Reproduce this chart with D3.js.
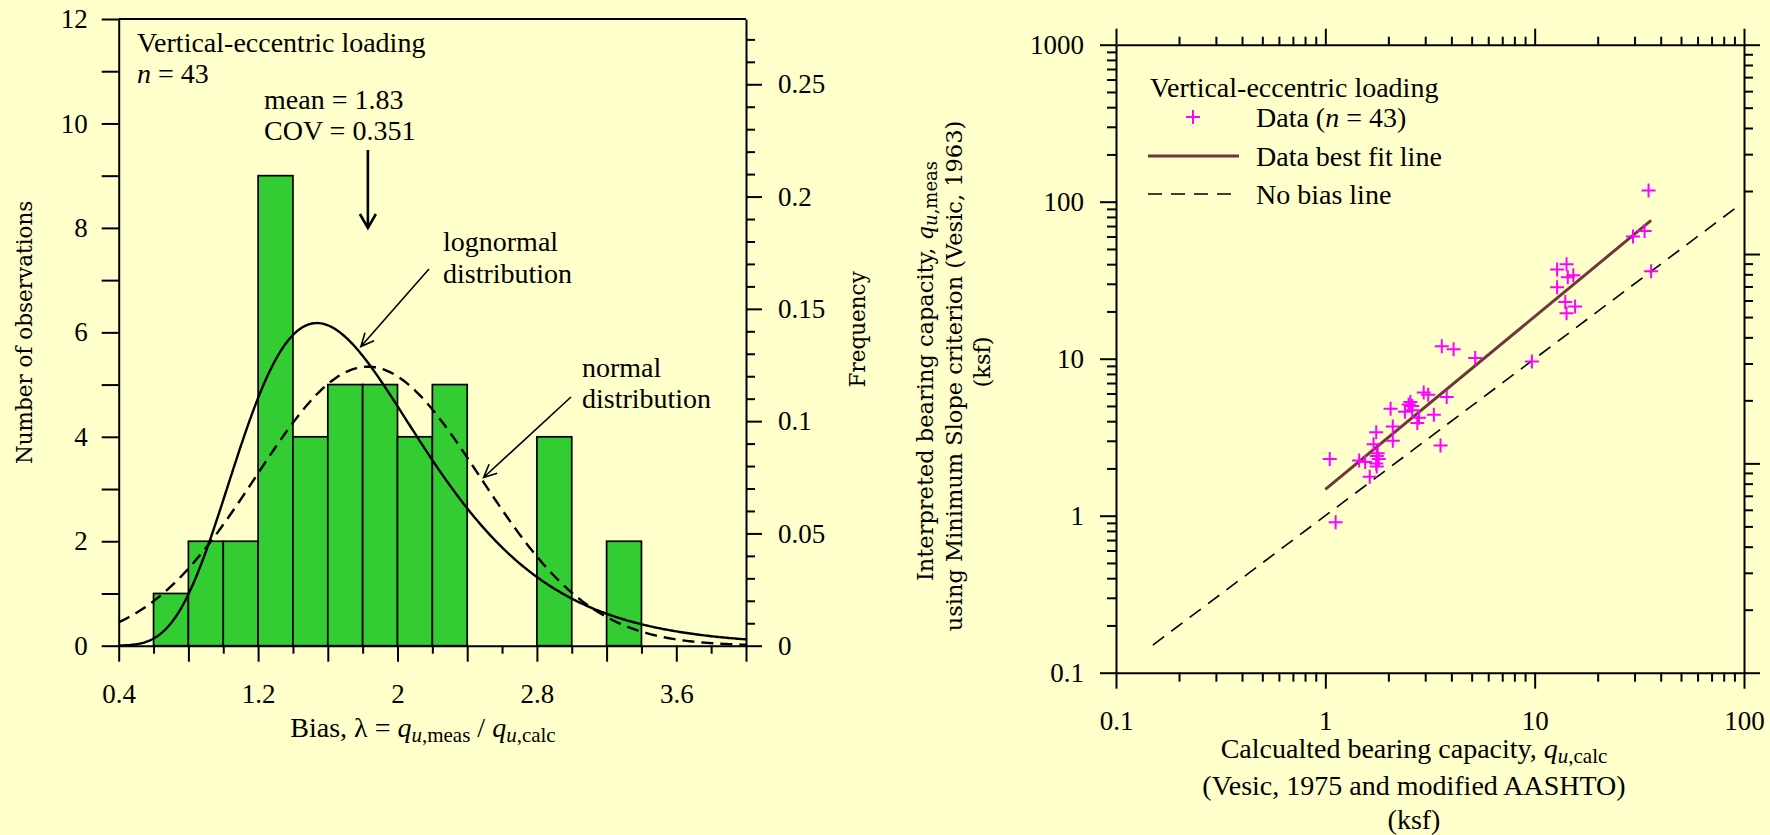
<!DOCTYPE html>
<html>
<head>
<meta charset="utf-8">
<script src="https://cdn.jsdelivr.net/npm/d3@7"></script>
<style>
  body { margin: 0; background: #FFFFCC; }
  svg { display: block; }
</style>
</head>
<body>
<svg id="chart" width="1770" height="835"></svg>
<script>
// ---------- Histogram of bias (vertical-eccentric loading) ----------
const binStarts = [0.6, 0.8, 1.0, 1.2, 1.4, 1.6, 1.8, 2.0, 2.2, 2.8, 3.2];
const binCounts = [1, 2, 2, 9, 4, 5, 5, 4, 5, 4, 2];
const binWidth = 0.2;
const sampleSize = 43;
const biasMean = 1.83;
const biasCOV = 0.351;
const biasTickLabels = ["0.4", "1.2", "2", "2.8", "3.6"];
const countTickLabels = ["0", "2", "4", "6", "8", "10", "12"];
const freqTickLabels = ["0", "0.05", "0.1", "0.15", "0.2", "0.25"];

// ---------- Measured vs calculated bearing capacity (ksf) ----------
const qCalc = [35, 29.5, 33.5, 36, 12.8, 14.2, 14.4, 15.3, 12.8, 14.0, 15.6, 14.2,
               3.6, 4.1, 5.2, 9.7,
               2.95, 3.1, 3.8, 2.05, 2.5, 2.6, 2.4, 3.3, 2.1, 2.75, 2.8, 1.75, 2.1, 1.7, 3.55,
               1.05, 1.45, 1.55, 1.76, 1.8, 1.75, 1.76, 1.63, 1.12, 2.55, 1.78, 2.6];
const qMeas = [118, 60, 65, 36, 37, 40, 33, 34, 28.5, 23, 21.5, 19.5,
               12, 11.5, 10.1, 9.6,
               6.1, 5.9, 5.7, 4.8, 5.1, 5.0, 4.6, 4.4, 3.7, 3.9, 4.2, 3.4, 3.0, 2.85, 2.8,
               2.3, 2.25, 2.2, 2.4, 2.3, 2.15, 2.06, 1.77, 0.91, 5.3, 2.5, 4.7];
const fitLineCalc = [1.0, 36];
const fitLineMeas = [1.47, 76];
const noBiasRange = [0.15, 90];
const calcTickLabels = ["0.1", "1", "10", "100"];
const measTickLabels = ["0.1", "1", "10", "100", "1000"];

const TIMES = "'Liberation Serif', 'Times New Roman', serif";
const WIDE = "'DejaVu Serif', serif";
const TXT = 28, TICK = 27, SUB = 21;
const svg = d3.select("#chart");

function styleAxis(g) {
  g.attr("font-family", TIMES).attr("font-size", TICK);
  g.selectAll("path.domain").attr("stroke", "#000").attr("stroke-width", 2);
  g.selectAll(".tick line").attr("stroke", "#000").attr("stroke-width", 2);
  g.selectAll(".tick text").attr("fill", "#000");
}
function noDomain(g) { g.select(".domain").remove(); }

function arrow(parent, x1, y1, x2, y2, head, halfW, width) {
  const a = Math.atan2(y2 - y1, x2 - x1);
  const ux = Math.cos(a), uy = Math.sin(a);
  const bx = x2 - ux * head, by = y2 - uy * head;
  const px = -uy * halfW, py = ux * halfW;
  parent.append("path")
    .attr("d", `M${x1},${y1}L${x2},${y2}M${bx + px},${by + py}L${x2},${y2}L${bx - px},${by - py}`)
    .attr("fill", "none").attr("stroke", "#000").attr("stroke-width", width)
    .attr("stroke-linejoin", "miter");
}

// subscripted q_{u,xxx}
function qSub(t, sub, subSize, drop) {
  t.append("tspan").attr("font-style", "italic").text("q");
  t.append("tspan").attr("font-style", "italic").attr("font-size", subSize).attr("dy", drop).text("u");
  t.append("tspan").attr("font-size", subSize).text("," + sub);
}

// ================= Left panel: histogram =================
const hx = d3.scaleLinear().domain([0.4, 4.0]).range([118.7, 746]);
const hy = d3.scaleLinear().domain([0, 12]).range([645.7, 19]);
const hf = d3.scaleLinear().domain([0, 12 / sampleSize]).range([645.7, 19]);

const left = svg.append("g");

left.append("g").selectAll("rect")
  .data(binStarts.map((s, i) => ({ s, c: binCounts[i] })))
  .join("rect")
  .attr("x", d => hx(d.s))
  .attr("width", d => hx(d.s + binWidth) - hx(d.s))
  .attr("y", d => hy(d.c))
  .attr("height", d => hy(0) - hy(d.c))
  .attr("fill", "#33CC33")
  .attr("stroke", "#000")
  .attr("stroke-width", 1.7);

// fitted distributions, scaled to counts per bin
const sdN = biasMean * biasCOV;
const sLn = Math.sqrt(Math.log(1 + biasCOV * biasCOV));
const mLn = Math.log(biasMean) - sLn * sLn / 2;
const scaleK = sampleSize * binWidth;
const normalPdf = x => Math.exp(-0.5 * ((x - biasMean) / sdN) ** 2) / (sdN * Math.sqrt(2 * Math.PI));
const lognormPdf = x => Math.exp(-0.5 * ((Math.log(x) - mLn) / sLn) ** 2) / (x * sLn * Math.sqrt(2 * Math.PI));
const xs = d3.range(0, 361).map(i => 0.4 + i * 0.01);

const curve = d3.line().x(d => hx(d[0])).y(d => hy(d[1]));
left.append("path")
  .attr("d", curve(xs.map(x => [x, scaleK * lognormPdf(x)])))
  .attr("fill", "none").attr("stroke", "#000").attr("stroke-width", 2.4);
left.append("path")
  .attr("d", curve(xs.map(x => [x, scaleK * normalPdf(x)])))
  .attr("fill", "none").attr("stroke", "#000").attr("stroke-width", 2.4)
  .attr("stroke-dasharray", "12,7");

// axes
const countMajor = d3.range(0, 13);
left.append("g").attr("transform", `translate(${hx(0.4)},0)`)
  .call(d3.axisLeft(hy).tickValues(countMajor).tickSize(17).tickSizeOuter(0).tickPadding(14)
    .tickFormat(d => d % 2 === 0 ? countTickLabels[d / 2] : ""))
  .call(styleAxis);

const biasAll = d3.range(0, 19).map(i => +(0.4 + 0.2 * i).toFixed(1));
left.append("g").attr("transform", `translate(0,${hy(0)})`)
  .call(d3.axisBottom(hx).tickValues(biasAll.filter((d, i) => i % 2 === 1)).tickSize(8).tickFormat(""))
  .call(noDomain).call(styleAxis);
left.append("g").attr("transform", `translate(0,${hy(0)})`)
  .call(d3.axisBottom(hx).tickValues(biasAll.filter((d, i) => i % 2 === 0)).tickSize(16).tickSizeOuter(0).tickPadding(22)
    .tickFormat((d, i) => i % 2 === 0 ? biasTickLabels[i / 2] : ""))
  .call(styleAxis);

const freqAll = d3.range(0, 28).map(i => +(i * 0.01).toFixed(2));
left.append("g").attr("transform", `translate(${hx(4.0)},0)`)
  .call(d3.axisRight(hf).tickValues(freqAll.filter((d, i) => i % 5 !== 0)).tickSize(9).tickFormat(""))
  .call(noDomain).call(styleAxis);
left.append("g").attr("transform", `translate(${hx(4.0)},0)`)
  .call(d3.axisRight(hf).tickValues(freqAll.filter((d, i) => i % 5 === 0)).tickSize(16).tickSizeOuter(0).tickPadding(16)
    .tickFormat((d, i) => freqTickLabels[i]))
  .call(styleAxis);
// top frame edge
left.append("line").attr("x1", hx(0.4)).attr("x2", hx(4.0)).attr("y1", hy(12)).attr("y2", hy(12))
  .attr("stroke", "#000").attr("stroke-width", 2);

// axis titles
left.append("text").attr("transform", `translate(32,${(hy(0) + hy(12)) / 2}) rotate(-90)`)
  .attr("text-anchor", "middle").attr("font-family", WIDE).attr("font-size", 21.5).text("Number of observations");
left.append("text").attr("transform", `translate(865,${(hy(0) + hy(12)) / 2 - 3}) rotate(-90)`)
  .attr("text-anchor", "middle").attr("font-family", WIDE).attr("font-size", 21.5).text("Frequency");

const biasTitle = left.append("text").attr("x", 423).attr("y", 737)
  .attr("text-anchor", "middle").attr("font-family", TIMES).attr("font-size", TXT);
biasTitle.append("tspan").text("Bias, λ = ");
qSub(biasTitle, "meas", SUB, 5);
biasTitle.append("tspan").attr("dy", -5).text(" / ");
qSub(biasTitle, "calc", SUB, 5);

// annotations
const note = (x, y, txt, italicFirst) => {
  const t = left.append("text").attr("x", x).attr("y", y)
    .attr("font-family", TIMES).attr("font-size", TXT);
  if (italicFirst) {
    t.append("tspan").attr("font-style", "italic").text(italicFirst);
  }
  t.append("tspan").text(txt);
  return t;
};
note(137, 52, "Vertical-eccentric loading");
note(137, 83, " = " + sampleSize, "n");
note(264, 109, "mean = " + biasMean.toFixed(2));
note(264, 140, "COV = " + biasCOV.toFixed(3));
arrow(left, hx(biasMean), 150, hx(biasMean), 228, 14, 8, 2.6);

note(443, 251, "lognormal");
note(443, 283, "distribution");
arrow(left, 429, 269, hx(1.79), hy(5.73), 13, 6, 1.6);

note(582, 377, "normal");
note(582, 408, "distribution");
arrow(left, 571, 397, hx(2.494), hy(3.22), 13, 6, 1.6);

// ================= Right panel: measured vs calculated =================
const sx = d3.scaleLog().domain([0.1, 100]).range([1116, 1744]);
const sy = d3.scaleLog().domain([0.1, 1000]).range([672.7, 44.7]);
const sr = d3.scaleLog().domain([0.1, 100]).range([672.7, 44.7]);
const right = svg.append("g");

function logTicks(lo, hi) {
  const major = [], minor = [];
  for (let e = lo; e <= hi; e++) {
    major.push(+Math.pow(10, e).toPrecision(3));
    if (e < hi) for (let m = 2; m <= 9; m++) minor.push(+(m * Math.pow(10, e)).toPrecision(3));
  }
  return { major, minor };
}
const tx = logTicks(-1, 2), ty = logTicks(-1, 3);

right.append("g").attr("transform", `translate(0,${sy(0.1)})`)
  .call(d3.axisBottom(sx).tickValues(tx.minor).tickSize(9).tickFormat(""))
  .call(noDomain).call(styleAxis);
right.append("g").attr("transform", `translate(0,${sy(0.1)})`)
  .call(d3.axisBottom(sx).tickValues(tx.major).tickSize(16).tickSizeOuter(0).tickPadding(22)
    .tickFormat((d, i) => calcTickLabels[i]))
  .call(styleAxis);
right.append("g").attr("transform", `translate(0,${sy(1000)})`)
  .call(d3.axisTop(sx).tickValues(tx.minor).tickSize(8).tickFormat(""))
  .call(noDomain).call(styleAxis);
right.append("g").attr("transform", `translate(0,${sy(1000)})`)
  .call(d3.axisTop(sx).tickValues(tx.major).tickSize(16).tickSizeOuter(0).tickFormat(""))
  .call(styleAxis);
right.append("g").attr("transform", `translate(${sx(0.1)},0)`)
  .call(d3.axisLeft(sy).tickValues(ty.minor).tickSize(9).tickFormat(""))
  .call(noDomain).call(styleAxis);
right.append("g").attr("transform", `translate(${sx(0.1)},0)`)
  .call(d3.axisLeft(sy).tickValues(ty.major).tickSize(16).tickSizeOuter(0).tickPadding(16)
    .tickFormat((d, i) => measTickLabels[i]))
  .call(styleAxis);
right.append("g").attr("transform", `translate(${sx(100)},0)`)
  .call(d3.axisRight(sr).tickValues(tx.minor).tickSize(9).tickFormat(""))
  .call(noDomain).call(styleAxis);
right.append("g").attr("transform", `translate(${sx(100)},0)`)
  .call(d3.axisRight(sr).tickValues(tx.major).tickSize(16).tickSizeOuter(0).tickFormat(""))
  .call(styleAxis);

// no-bias 1:1 line
right.append("line")
  .attr("x1", sx(noBiasRange[0])).attr("y1", sy(noBiasRange[0]))
  .attr("x2", sx(noBiasRange[1])).attr("y2", sy(noBiasRange[1]))
  .attr("stroke", "#000").attr("stroke-width", 1.6).attr("stroke-dasharray", "14,9");

// best fit line
right.append("line")
  .attr("x1", sx(fitLineCalc[0])).attr("y1", sy(fitLineMeas[0]))
  .attr("x2", sx(fitLineCalc[1])).attr("y2", sy(fitLineMeas[1]))
  .attr("stroke", "#6e3838").attr("stroke-width", 3);

// data points
const plus = "M-7,0H7M0,-7V7";
right.append("g").selectAll("path")
  .data(qCalc.map((c, i) => [c, qMeas[i]]))
  .join("path")
  .attr("transform", d => `translate(${sx(d[0])},${sy(d[1])})`)
  .attr("d", plus).attr("stroke", "#FF00FF").attr("stroke-width", 2).attr("fill", "none");

// legend
const leg = right.append("g").attr("font-family", TIMES).attr("font-size", TXT);
leg.append("text").attr("x", 1150).attr("y", 97).text("Vertical-eccentric loading");
leg.append("path").attr("transform", "translate(1193,117)").attr("d", plus)
  .attr("stroke", "#FF00FF").attr("stroke-width", 2);
const lt = leg.append("text").attr("x", 1256).attr("y", 127);
lt.append("tspan").text("Data (");
lt.append("tspan").attr("font-style", "italic").text("n");
lt.append("tspan").text(" = " + sampleSize + ")");
leg.append("line").attr("x1", 1148).attr("x2", 1239).attr("y1", 156).attr("y2", 156)
  .attr("stroke", "#6e3838").attr("stroke-width", 3);
leg.append("text").attr("x", 1256).attr("y", 166).text("Data best fit line");
leg.append("line").attr("x1", 1148).attr("x2", 1239).attr("y1", 194).attr("y2", 194)
  .attr("stroke", "#000").attr("stroke-width", 1.6).attr("stroke-dasharray", "14,9");
leg.append("text").attr("x", 1256).attr("y", 204).text("No bias line");

// axis titles
const YT = 22.5;
const ty1 = right.append("text").attr("transform", "translate(933,371) rotate(-90)")
  .attr("text-anchor", "middle").attr("font-family", WIDE).attr("font-size", YT);
ty1.append("tspan").text("Interpreted bearing capacity, ");
qSub(ty1, "meas", 18, 4);
right.append("text").attr("transform", "translate(962,376) rotate(-90)")
  .attr("text-anchor", "middle").attr("font-family", WIDE).attr("font-size", YT)
  .text("using Minimum Slope criterion (Vesic, 1963)");
right.append("text").attr("transform", "translate(990,362) rotate(-90)")
  .attr("text-anchor", "middle").attr("font-family", WIDE).attr("font-size", YT)
  .text("(ksf)");

const tx1 = right.append("text").attr("x", 1414).attr("y", 758)
  .attr("text-anchor", "middle").attr("font-family", TIMES).attr("font-size", TXT);
tx1.append("tspan").text("Calcualted bearing capacity, ");
qSub(tx1, "calc", SUB, 5);
right.append("text").attr("x", 1414).attr("y", 795)
  .attr("text-anchor", "middle").attr("font-family", TIMES).attr("font-size", TXT)
  .text("(Vesic, 1975 and modified AASHTO)");
right.append("text").attr("x", 1414).attr("y", 829)
  .attr("text-anchor", "middle").attr("font-family", TIMES).attr("font-size", TXT)
  .text("(ksf)");
</script>
</body>
</html>
